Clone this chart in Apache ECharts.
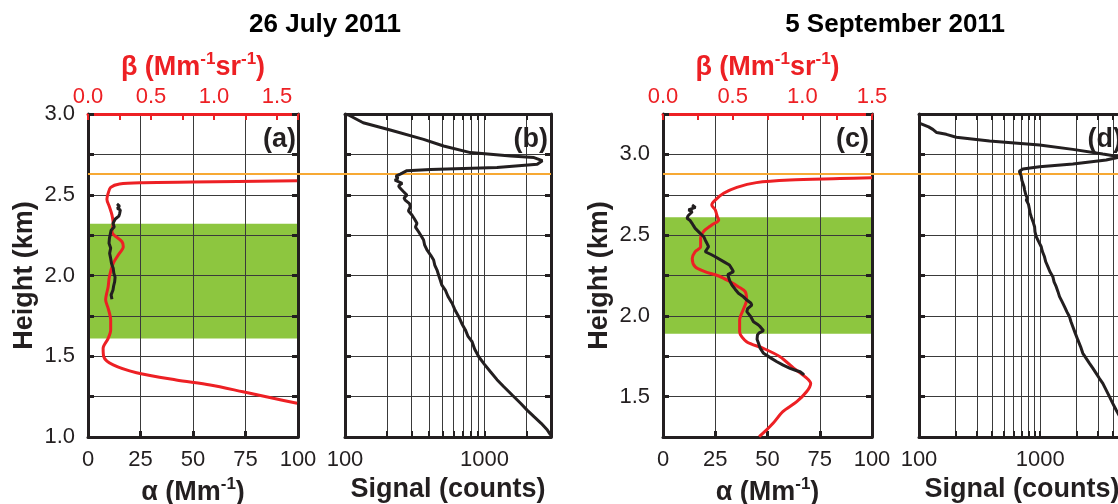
<!DOCTYPE html>
<html>
<head>
<meta charset="utf-8">
<title>Lidar profiles</title>
<script src="https://cdn.jsdelivr.net/npm/echarts@6.0.0/dist/echarts.min.js"></script>
<style>
  html, body { margin: 0; padding: 0; background: #fff; }
  #chart { width: 1118px; height: 504px; }
</style>
</head>
<body>
<div id="chart"></div>
<script>
// ---- values ----

// 26 July 2011, panel (a): backscatter (red, top axis) and extinction (black, bottom axis)
const redHeightA = [2.587, 2.579, 2.575, 2.567, 2.546, 2.509, 2.472, 2.426, 2.375, 2.323, 2.271, 2.209, 2.178, 2.127, 2.075, 1.993, 1.931, 1.848, 1.797, 1.724, 1.663, 1.611, 1.549, 1.497, 1.446, 1.398, 1.353, 1.322, 1.280, 1.240, 1.209]
const betaA = [1.66, 0.83, 0.44, 0.25, 0.18, 0.16, 0.15, 0.17, 0.19, 0.20, 0.19, 0.27, 0.28, 0.24, 0.20, 0.17, 0.16, 0.14, 0.16, 0.18, 0.18, 0.16, 0.12, 0.125, 0.20, 0.385, 0.70, 0.97, 1.23, 1.47, 1.66]
const blackHeightA = [2.443, 2.430, 2.415, 2.406, 2.395, 2.385, 2.368, 2.350, 2.323, 2.300, 2.280, 2.261, 2.230, 2.199, 2.170, 2.137, 2.105, 2.075, 2.045, 2.014, 1.990, 1.962, 1.935, 1.910, 1.880, 1.853]
const alphaA = [13.8, 15.0, 14.0, 15.4, 16.0, 15.1, 14.7, 13.0, 11.9, 12.5, 11.0, 10.7, 10.2, 10.0, 10.8, 10.3, 10.8, 11.2, 12.0, 12.3, 12.9, 12.7, 12.2, 11.9, 11.0, 11.4]

// panel (b): raw signal
const heightB = [2.998, 2.994, 2.946, 2.901, 2.843, 2.802, 2.761, 2.740, 2.730, 2.711, 2.689, 2.668, 2.657, 2.649, 2.628, 2.615, 2.602, 2.590, 2.571, 2.555, 2.540, 2.520, 2.498, 2.480, 2.467, 2.445, 2.426, 2.400, 2.375, 2.350, 2.323, 2.300, 2.271, 2.245, 2.220, 2.190, 2.158, 2.125, 2.096, 2.065, 2.034, 2.000, 1.972, 1.940, 1.910, 1.870, 1.828, 1.790, 1.745, 1.700, 1.663, 1.625, 1.590, 1.545, 1.497, 1.450, 1.404, 1.355, 1.311, 1.260, 1.209, 1.165, 1.126, 1.085, 1.043, 1.012]
const signalB = [102, 106, 135, 211, 366, 509, 793, 1540, 2265, 2600, 2390, 1230, 410, 278, 249, 232, 240, 228, 257, 242, 249, 262, 278, 265, 270, 290, 294, 285, 302, 315, 328, 320, 337, 352, 366, 372, 387, 412, 432, 440, 457, 470, 482, 495, 524, 548, 586, 612, 654, 690, 730, 760, 815, 850, 910, 1000, 1104, 1230, 1377, 1580, 1815, 2030, 2265, 2550, 2826, 2985]

// 5 September 2011, panel (c)
const redHeightC = [2.856, 2.850, 2.841, 2.825, 2.796, 2.759, 2.717, 2.687, 2.656, 2.614, 2.594, 2.563, 2.521, 2.480, 2.428, 2.397, 2.356, 2.305, 2.274, 2.247, 2.212, 2.181, 2.150, 2.098, 2.047, 1.974, 1.902, 1.840, 1.799, 1.747, 1.675, 1.623, 1.582, 1.530, 1.469, 1.407, 1.335, 1.283, 1.252]
const betaC = [1.50, 1.27, 0.91, 0.67, 0.53, 0.435, 0.375, 0.35, 0.375, 0.39, 0.40, 0.35, 0.29, 0.27, 0.27, 0.23, 0.21, 0.23, 0.30, 0.40, 0.48, 0.54, 0.59, 0.60, 0.58, 0.55, 0.55, 0.60, 0.72, 0.84, 0.94, 1.02, 1.06, 1.03, 0.96, 0.86, 0.79, 0.73, 0.69]
const blackHeightC = [2.687, 2.672, 2.656, 2.645, 2.635, 2.620, 2.604, 2.590, 2.573, 2.560, 2.542, 2.511, 2.490, 2.470, 2.450, 2.428, 2.397, 2.380, 2.366, 2.336, 2.315, 2.290, 2.274, 2.255, 2.243, 2.215, 2.191, 2.165, 2.140, 2.118, 2.098, 2.080, 2.067, 2.045, 2.026, 1.995, 1.964, 1.945, 1.933, 1.908, 1.895, 1.882, 1.855, 1.830, 1.800, 1.768, 1.740, 1.716, 1.695, 1.675, 1.660, 1.654, 1.640, 1.634]
const alphaC = [13.9, 15.5, 12.2, 14.0, 14.6, 12.0, 11.5, 13.0, 13.9, 14.5, 15.4, 17.8, 19.5, 20.2, 21.0, 21.8, 20.2, 23.0, 25.0, 29.0, 31.8, 33.0, 33.7, 31.0, 31.3, 32.0, 33.0, 34.5, 36.1, 38.5, 40.1, 42.0, 42.5, 40.5, 40.1, 42.0, 43.3, 45.5, 46.5, 48.1, 46.0, 45.2, 45.0, 45.7, 46.5, 48.1, 51.5, 54.5, 57.5, 60.8, 64.0, 65.6, 67.0, 67.5]

// panel (d)
const heightD = [3.190, 3.170, 3.155, 3.145, 3.135, 3.124, 3.106, 3.083, 3.058, 3.031, 3.002, 2.985, 2.965, 2.940, 2.924, 2.909, 2.895, 2.887, 2.866, 2.840, 2.821, 2.800, 2.779, 2.750, 2.730, 2.717, 2.690, 2.656, 2.635, 2.614, 2.585, 2.552, 2.520, 2.490, 2.460, 2.428, 2.400, 2.366, 2.335, 2.305, 2.275, 2.243, 2.210, 2.181, 2.150, 2.119, 2.090, 2.057, 2.025, 1.995, 1.965, 1.933, 1.890, 1.851, 1.810, 1.768, 1.735, 1.706, 1.675, 1.644, 1.612, 1.582, 1.540, 1.500, 1.458, 1.417, 1.380, 1.345]
const signalD = [103, 120, 130, 132, 140, 168, 203, 382, 986, 1857, 3281, 4600, 3500, 1857, 986, 719, 672, 667, 697, 705, 719, 735, 743, 760, 780, 767, 800, 817, 825, 843, 870, 898, 905, 927, 970, 1019, 1040, 1084, 1110, 1155, 1200, 1270, 1300, 1354, 1400, 1442, 1510, 1585, 1660, 1742, 1790, 1857, 1950, 2042, 2150, 2245, 2400, 2547, 2720, 2893, 3080, 3281, 3500, 3722, 3960, 4227, 4500, 4800]

// layer (green) and cloud base (orange), km
const layerA = [1.61, 2.32]
const layerC = [1.89, 2.61]
const cloudBaseA = 2.63
const cloudBaseC = 2.883

// axis ranges and ticks
const heightRangeA = [1, 3]
const heightRangeC = [1.25, 3.25]
const betaMaxA = 100 / 60
const betaMaxC = 1.5
const signalTicksB = [100, 200, 300, 400, 500, 600, 700, 800, 900, 1000, 2000, 3000]
const signalTicksD = [100, 200, 300, 400, 500, 600, 700, 800, 900, 1000, 2000, 3000, 4000, 5000]
const signalLabels = [100, 1000]

// ---- styling ----
const INK = '#231f20'
const RED = '#ed2024'
const GRID = '#3a3a3a'
const GREEN = '#8dc63f'
const ORANGE = '#f7a934'
const FONT = '"Liberation Sans", Arial, Helvetica, sans-serif'

const zip = (xs, ys) => xs.map((x, i) => [x, ys[i]])
const halfStep = v => Math.abs(v * 2 - Math.round(v * 2)) < 1e-6

const nameRich = (color) => ({
  b: { fontSize: 27, fontWeight: 'bold', fontFamily: FONT, color, lineHeight: 34 },
  s: { fontSize: 17, fontWeight: 'bold', fontFamily: FONT, color, lineHeight: 17, verticalAlign: 'top' },
})
const boldName = { fontSize: 27, fontWeight: 'bold', fontFamily: FONT, color: INK }

const frame = (color) => ({ show: true, onZero: false, lineStyle: { color, width: 3 } })

function heightAxis(gridIndex, range, side, withLabels, withName) {
  return {
    type: 'value', gridIndex, position: side, min: range[0], max: range[1], interval: 0.25, z: 3,
    axisLine: frame(INK),
    axisTick: { show: true, inside: true, length: 6, lineStyle: { color: INK, width: 3 } },
    axisLabel: {
      show: withLabels, margin: 13, color: INK, fontSize: 22, fontFamily: FONT,
      formatter: v => (halfStep(v) ? v.toFixed(1) : ''),
    },
    splitLine: { show: side === 'left', lineStyle: { color: GRID, width: 1 } },
    name: withName ? 'Height (km)' : '',
    nameLocation: 'middle', nameGap: 50,
    nameTextStyle: boldName,
  }
}

function alphaAxis(gridIndex) {
  return {
    type: 'value', gridIndex, position: 'bottom', min: 0, max: 100, interval: 25, z: 3,
    axisLine: frame(INK),
    axisTick: { show: true, inside: true, length: 6, lineStyle: { color: INK, width: 3 } },
    axisLabel: { margin: 12, color: INK, fontSize: 22, fontFamily: FONT },
    splitLine: { show: true, lineStyle: { color: GRID, width: 1 } },
    name: '{b|α (Mm}{s|-1}{b|)}', nameLocation: 'middle', nameGap: 32,
    nameTextStyle: { rich: nameRich(INK) },
  }
}

function betaAxis(gridIndex, max) {
  return {
    type: 'value', gridIndex, position: 'top', min: 0, max, interval: 0.25, z: 3,
    axisLine: frame(RED),
    axisTick: { show: true, inside: true, length: 6, lineStyle: { color: RED, width: 2 } },
    axisLabel: {
      margin: 6, color: RED, fontSize: 22, fontFamily: FONT,
      formatter: v => (halfStep(v) && v <= 1.5 ? v.toFixed(1) : ''),
    },
    splitLine: { show: false },
    name: '{b|β (Mm}{s|-1}{b|sr}{s|-1}{b|)}', nameLocation: 'middle', nameGap: 27,
    nameTextStyle: { rich: nameRich(RED) },
  }
}

function signalAxis(gridIndex, max, ticks, side) {
  const bottom = side === 'bottom'
  return {
    type: 'log', logBase: 10, gridIndex, position: side, min: 100, max, z: 3,
    axisLine: frame(INK),
    axisTick: { show: true, inside: true, length: 6, customValues: ticks, lineStyle: { color: INK, width: 2 } },
    axisLabel: {
      show: bottom, customValues: signalLabels, margin: 12, color: INK, fontSize: 22, fontFamily: FONT,
      formatter: v => String(Math.round(v)),
    },
    splitLine: { show: bottom, lineStyle: { color: GRID, width: 1 } },
    name: bottom ? 'Signal (counts)' : '', nameLocation: 'middle', nameGap: 38,
    nameTextStyle: boldName,
  }
}

const hidden = (gridIndex, range) => ({ type: 'value', gridIndex, min: range[0], max: range[1], show: false })

const curve = (xAxisIndex, yAxisIndex, data, color, smooth) => ({
  type: 'line', xAxisIndex, yAxisIndex, data, symbol: 'none', smooth, z: 5,
  lineStyle: { color, width: 3 }, silent: true,
})

const band = (xAxisIndex, yAxisIndex, layer) => ({
  type: 'line', xAxisIndex, yAxisIndex, data: [], z: 1, silent: true,
  markArea: { silent: true, itemStyle: { color: GREEN }, data: [[{ yAxis: layer[0] }, { yAxis: layer[1] }]] },
})

const cloudLine = (axisIndex, h) => ({
  type: 'line', xAxisIndex: axisIndex, yAxisIndex: axisIndex, data: [], z: 4, silent: true,
  markLine: {
    silent: true, symbol: 'none', label: { show: false },
    lineStyle: { color: ORANGE, width: 2, type: 'solid' }, data: [{ yAxis: h }],
  },
})

const panelLabel = (x, text) => ({
  type: 'text', x, y: 140, z: 10,
  style: { text, font: 'bold 27px ' + FONT, fill: INK, align: 'right', verticalAlign: 'middle', textAlign: 'right', textVerticalAlign: 'middle' },
})
const title = (x, text) => ({
  type: 'text', x, y: 25, z: 10,
  style: { text, font: 'bold 26px ' + FONT, fill: '#000', align: 'center', verticalAlign: 'middle', textAlign: 'center', textVerticalAlign: 'middle' },
})

const option = {
  animation: false,
  backgroundColor: '#fff',
  grid: [
    { left: 88, top: 114, width: 210, height: 323 },
    { left: 345, top: 114, width: 206, height: 323 },
    { left: 663, top: 114, width: 209, height: 323 },
    { left: 919, top: 114, width: 206, height: 323 },
    // overlays so the cloud-base line runs across both panels of a day
    { left: 88, top: 114, width: 463, height: 323 },
    { left: 663, top: 114, width: 462, height: 323 },
  ].map(g => ({ ...g, containLabel: false, outerBoundsMode: 'none' })),
  xAxis: [
    alphaAxis(0),
    betaAxis(0, betaMaxA),
    signalAxis(1, 3000, signalTicksB, 'bottom'),
    signalAxis(1, 3000, signalTicksB, 'top'),
    alphaAxis(2),
    betaAxis(2, betaMaxC),
    signalAxis(3, 5000, signalTicksD, 'bottom'),
    signalAxis(3, 5000, signalTicksD, 'top'),
    hidden(4, [0, 1]),
    hidden(5, [0, 1]),
  ],
  yAxis: [
    heightAxis(0, heightRangeA, 'left', true, true),
    heightAxis(0, heightRangeA, 'right', false, false),
    heightAxis(1, heightRangeA, 'left', false, false),
    heightAxis(1, heightRangeA, 'right', false, false),
    heightAxis(2, heightRangeC, 'left', true, true),
    heightAxis(2, heightRangeC, 'right', false, false),
    heightAxis(3, heightRangeC, 'left', false, false),
    heightAxis(3, heightRangeC, 'right', false, false),
    hidden(4, heightRangeA),
    hidden(5, heightRangeC),
  ],
  series: [
    band(0, 0, layerA),
    curve(1, 0, zip(betaA, redHeightA), RED, 0.3),
    curve(0, 0, zip(alphaA, blackHeightA), INK, false),
    curve(2, 2, zip(signalB, heightB), INK, false),
    band(4, 4, layerC),
    curve(5, 4, zip(betaC, redHeightC), RED, 0.3),
    curve(4, 4, zip(alphaC, blackHeightC), INK, false),
    curve(6, 6, zip(signalD, heightD), INK, false),
    cloudLine(8, cloudBaseA),
    cloudLine(9, cloudBaseC),
  ],
  graphic: [
    title(325, '26 July 2011'),
    title(895, '5 September 2011'),
    panelLabel(296, '(a)'),
    panelLabel(548, '(b)'),
    panelLabel(869, '(c)'),
    panelLabel(1122, '(d)'),
  ],
}

const chart = echarts.init(document.getElementById('chart'))
chart.setOption(option)
window.addEventListener('resize', () => chart.resize())
</script>
</body>
</html>
